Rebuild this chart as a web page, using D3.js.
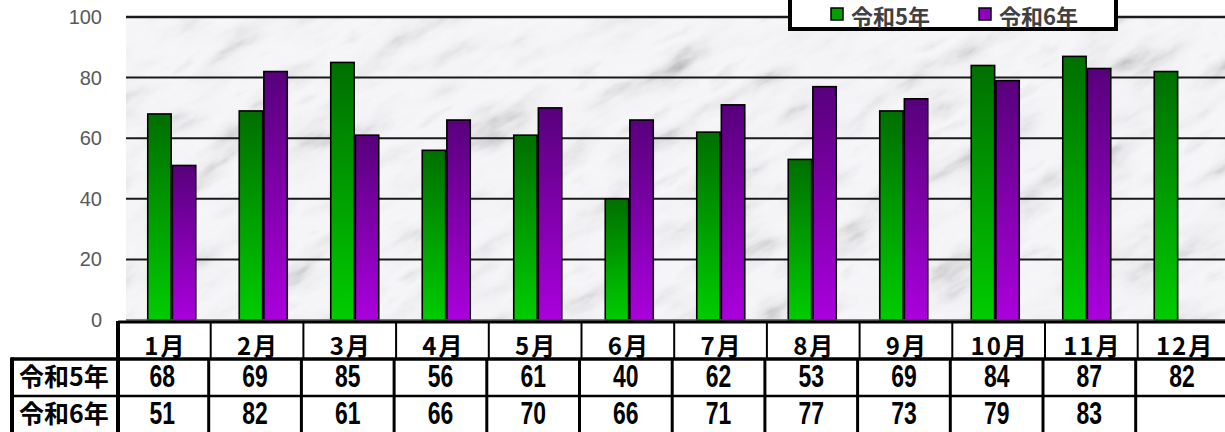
<!DOCTYPE html>
<html>
<head>
<meta charset="utf-8">
<script src="https://cdn.jsdelivr.net/npm/d3@7"></script>
<style>
  body { margin: 0; background: #fff; }
  svg { display: block; }
</style>
</head>
<body>
<script>
// monthly data
var months = ['1月','2月','3月','4月','5月','6月','7月','8月','9月','10月','11月','12月'];
var seriesNames = ['令和5年','令和6年'];
var r5 = [68, 69, 85, 56, 61, 40, 62, 53, 69, 84, 87, 82];
var r6 = [51, 82, 61, 66, 70, 66, 71, 77, 73, 79, 83, null];
var yTicks = [0, 20, 40, 60, 80, 100];

var W = 1225, H = 432;
var plot = { left: 126, right: 1224, top: 17, bottom: 320 };

var svg = d3.select('body').append('svg')
  .attr('width', W)
  .attr('height', H);

var defs = svg.append('defs');

// marble-ish texture for the plot background
var marble = defs.append('filter').attr('id', 'marble')
  .attr('x', 0).attr('y', 0).attr('width', 1).attr('height', 1);
marble.append('feTurbulence')
  .attr('type', 'fractalNoise')
  .attr('baseFrequency', '0.012 0.032')
  .attr('numOctaves', 5)
  .attr('seed', 11)
  .attr('result', 'noise');
marble.append('feColorMatrix')
  .attr('in', 'noise')
  .attr('type', 'matrix')
  .attr('values', '1 0 0 0 0  1 0 0 0 0  1 0 0 0 0  0 0 0 0 1')
  .attr('result', 'gray');
var ct = marble.append('feComponentTransfer').attr('in', 'gray');
var tv = '0.42 0.52 0.68 0.8 0.87 0.9 0.92 0.91 0.84 0.72 0.6';
ct.append('feFuncR').attr('type', 'table').attr('tableValues', tv);
ct.append('feFuncG').attr('type', 'table').attr('tableValues', tv);
ct.append('feFuncB').attr('type', 'table').attr('tableValues', '0.44 0.54 0.7 0.82 0.89 0.92 0.94 0.93 0.86 0.74 0.62');

defs.append('clipPath').attr('id', 'plotClip')
  .append('rect')
  .attr('x', plot.left).attr('y', plot.top)
  .attr('width', plot.right - plot.left + 1)
  .attr('height', plot.bottom - plot.top);

var grads = [
  { id: 'gGreen', top: '#006f00', bottom: '#00cc00' },
  { id: 'gPurple', top: '#58007c', bottom: '#aa00dd' }
];
grads.forEach(function(g) {
  var lg = defs.append('linearGradient').attr('id', g.id)
    .attr('x1', 0).attr('y1', 0).attr('x2', 0).attr('y2', 1);
  lg.append('stop').attr('offset', '0%').attr('stop-color', g.top);
  lg.append('stop').attr('offset', '100%').attr('stop-color', g.bottom);
});
var fills = ['url(#gGreen)', 'url(#gPurple)'];
var legendColors = ['#00a000', '#9000c0'];

// scales
var x0 = d3.scaleBand().domain(months).range([plot.left, plot.right]);
var groupW = 48;
var x1 = d3.scaleBand().domain([0, 1])
  .range([x0.bandwidth() / 2 - groupW / 2, x0.bandwidth() / 2 + groupW / 2])
  .paddingInner(0.05);
var y = d3.scaleLinear().domain([0, 100]).range([plot.bottom, plot.top]);

// background: rotated noise so the veins run diagonally
svg.append('g').attr('clip-path', 'url(#plotClip)')
  .append('rect')
  .attr('x', -200).attr('y', -700)
  .attr('width', 1700).attr('height', 1700)
  .attr('transform', 'rotate(-28 675 170)')
  .attr('filter', 'url(#marble)');

// grid lines
svg.append('g').selectAll('line')
  .data(yTicks.filter(function(d) { return d > 0; }))
  .enter().append('line')
  .attr('x1', plot.left).attr('x2', W)
  .attr('y1', function(d) { return y(d); })
  .attr('y2', function(d) { return y(d); })
  .attr('stroke', '#1a1a1a')
  .attr('stroke-width', function(d) { return d === 100 ? 2.5 : 2; });

// bars
var rows = months.map(function(m, i) { return { month: m, vals: [r5[i], r6[i]] }; });
var groups = svg.append('g').selectAll('g')
  .data(rows)
  .enter().append('g')
  .attr('transform', function(d) { return 'translate(' + x0(d.month) + ',0)'; });
groups.selectAll('rect')
  .data(function(d) {
    return d.vals.map(function(v, k) { return { k: k, v: v }; })
      .filter(function(e) { return e.v != null; });
  })
  .enter().append('rect')
  .attr('x', function(d) { return x1(d.k); })
  .attr('width', x1.bandwidth())
  .attr('y', function(d) { return y(d.v); })
  .attr('height', function(d) { return y(0) - y(d.v); })
  .attr('fill', function(d) { return fills[d.k]; })
  .attr('stroke', '#000')
  .attr('stroke-width', 1.6);

// axis line
svg.append('line')
  .attr('x1', plot.left).attr('x2', W)
  .attr('y1', plot.bottom).attr('y2', plot.bottom)
  .attr('stroke', '#555').attr('stroke-width', 1.5);

// data table under the plot
var tx = d3.scaleBand().domain(months).range([118, 118 + 92.7 * 12]);
var tableRows = [
  { top: 322, bottom: 359 },
  { top: 359, bottom: 396 },
  { top: 396, bottom: 433 }
];
var table = svg.append('g');
table.append('rect')
  .attr('x', 118).attr('y', 321).attr('width', W - 118).attr('height', H - 321)
  .attr('fill', '#fff');
table.append('rect')
  .attr('x', 0).attr('y', 357).attr('width', W).attr('height', H - 357)
  .attr('fill', '#fff');

var cjk = '"Noto Sans CJK JP", "Noto Sans", sans-serif';

// header row: month names
table.selectAll('.mon')
  .data(months)
  .enter().append('text')
  .attr('class', 'mon')
  .attr('x', function(d) { return tx(d) + tx.bandwidth() / 2 + 1; })
  .attr('y', 344)
  .attr('text-anchor', 'middle')
  .attr('dominant-baseline', 'central')
  .style('font-family', cjk)
  .style('font-size', '24px')
  .style('font-weight', 700)
  .style('letter-spacing', '2px')
  .text(function(d) { return d; });

// value rows
[r5, r6].forEach(function(vals, r) {
  var row = tableRows[r + 1];
  var base = row.top + 28;
  table.append('text')
    .attr('x', 64).attr('y', base - 1)
    .attr('text-anchor', 'middle')
    .style('font-family', cjk)
    .style('font-size', '25px')
    .style('font-weight', 700)
    .text(seriesNames[r]);
  table.selectAll('.v' + r)
    .data(months.map(function(m, i) { return { m: m, v: vals[i] }; }))
    .enter().append('text')
    .attr('class', 'v' + r)
    .attr('transform', function(d) {
      return 'translate(' + (tx(d.m) + tx.bandwidth() / 2 - 2) + ',' + base + ') scale(0.74,1)';
    })
    .attr('text-anchor', 'middle')
    .style('font-family', '"Liberation Sans", Arial, sans-serif')
    .style('font-size', '31px')
    .style('font-weight', 700)
    .text(function(d) { return d.v == null ? '' : d.v; });
});

// table borders
var hl = [
  { x1: 118, x2: W, y: 322, w: 3 },
  { x1: 11, x2: W, y: 359, w: 3.5 },
  { x1: 11, x2: W, y: 396, w: 2.5 }
];
table.selectAll('.hl').data(hl).enter().append('line')
  .attr('x1', function(d) { return d.x1; })
  .attr('x2', function(d) { return d.x2; })
  .attr('y1', function(d) { return d.y; })
  .attr('y2', function(d) { return d.y; })
  .attr('stroke', '#000')
  .attr('stroke-width', function(d) { return d.w; });

// column separators
table.selectAll('.vh').data(months.slice(1)).enter().append('line')
  .attr('x1', function(d) { return tx(d); }).attr('x2', function(d) { return tx(d); })
  .attr('y1', 322).attr('y2', 359)
  .attr('stroke', '#000').attr('stroke-width', 2);
table.selectAll('.vd').data(months.slice(1)).enter().append('line')
  .attr('x1', function(d) { return tx(d) - 2; }).attr('x2', function(d) { return tx(d) - 2; })
  .attr('y1', 359).attr('y2', H)
  .attr('stroke', '#000').attr('stroke-width', 3);
table.append('line')
  .attr('x1', 118).attr('x2', 118).attr('y1', 321).attr('y2', H)
  .attr('stroke', '#000').attr('stroke-width', 4);
table.append('line')
  .attr('x1', 12).attr('x2', 12).attr('y1', 357.5).attr('y2', H)
  .attr('stroke', '#000').attr('stroke-width', 4);

// y axis labels (drawn last so the table does not cover "0")
var yAxis = svg.append('g')
  .attr('transform', 'translate(' + plot.left + ',0)')
  .call(d3.axisLeft(y).tickValues(yTicks).tickSize(0).tickPadding(24));
yAxis.select('.domain').remove();
yAxis.selectAll('text')
  .attr('fill', '#595959')
  .style('font-family', '"Liberation Sans", Arial, sans-serif')
  .style('font-size', '20px');

// legend
var lg = svg.append('g');
lg.append('rect')
  .attr('x', 790).attr('y', -6).attr('width', 326).attr('height', 35)
  .attr('fill', '#fff').attr('stroke', '#000').attr('stroke-width', 4);
var items = lg.selectAll('.item')
  .data(seriesNames)
  .enter().append('g')
  .attr('transform', function(d, i) { return 'translate(' + (831 + i * 148) + ',0)'; });
items.append('rect')
  .attr('x', 0).attr('y', 8).attr('width', 12).attr('height', 12)
  .attr('fill', function(d, i) { return legendColors[i]; })
  .attr('stroke', '#000').attr('stroke-width', 1.5);
items.append('text')
  .attr('x', 20).attr('y', 15)
  .attr('dominant-baseline', 'central')
  .attr('fill', '#404040')
  .style('font-family', cjk)
  .style('font-size', '22px')
  .style('font-weight', 700)
  .text(function(d) { return d; });
</script>
</body>
</html>
